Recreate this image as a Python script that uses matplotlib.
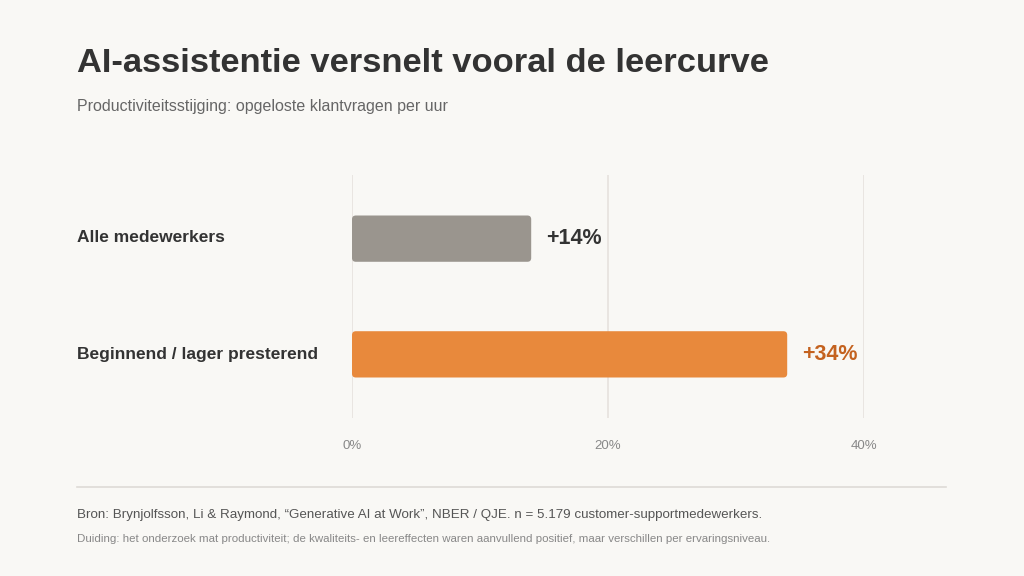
import matplotlib.pyplot as plt
from matplotlib.patches import FancyBboxPatch

plt.rcParams['font.family'] = ['Liberation Sans', 'DejaVu Sans']

categories = ["Alle medewerkers", "Beginnend / lager presterend"]
values = [14, 34]
value_labels = ["+14%", "+34%"]
ticks = [0, 20, 40]
tick_labels = ["0%", "20%", "40%"]

bg = "#f9f8f5"
bar_colors = ["#9a958e", "#e8893c"]
label_colors = ["#333333", "#c4621f"]

fig = plt.figure(figsize=(10.24, 5.76), dpi=100, facecolor=bg)
ax = fig.add_axes([352 / 1024, 1 - 418 / 576, 512 / 1024, 243 / 576])
ax.set_facecolor(bg)

bars = ax.barh(range(len(values)), values, height=0.4, color=bar_colors)
# swap the plain bars for slightly rounded ones
for b, c in zip(bars, bar_colors):
    b.set_visible(False)
    ax.add_patch(FancyBboxPatch((b.get_x(), b.get_y()), b.get_width(), b.get_height(),
                                boxstyle="round,pad=0,rounding_size=0.3",
                                mutation_aspect=0.11, facecolor=c, edgecolor="none",
                                zorder=3))

ax.set_xlim(0, 40)
ax.set_ylim(1.55, -0.55)
ax.set_xticks(ticks)
ax.set_xticklabels(tick_labels, color="#888888", fontsize=9.5)
ax.set_yticks([])
ax.tick_params(axis="x", length=0, pad=16)
for s in ax.spines.values():
    s.set_visible(False)
for t in ticks:
    ax.axvline(t, color="#e6e2dd", lw=1.2, zorder=1)

for i, (v, lab, col) in enumerate(zip(values, value_labels, label_colors)):
    ax.text(v + 1.2, i, lab, va="center", ha="left", fontsize=15.5,
            fontweight="bold", color=col)
    ax.text(77 / 1024, 1 - (238 + 116 * i) / 576, categories[i], transform=fig.transFigure,
            va="center", ha="left", fontsize=12.5, fontweight="bold", color="#333333")

fig.text(77 / 1024, 1 - 63 / 576, "AI-assistentie versnelt vooral de leercurve",
         fontsize=24.8, fontweight="bold", color="#333333", va="center")
fig.text(77 / 1024, 1 - 106 / 576, "Productiviteitsstijging: opgeloste klantvragen per uur",
         fontsize=11.5, color="#666666", va="center")

fig.add_artist(plt.Line2D([77 / 1024, 946 / 1024], [1 - 487 / 576] * 2,
                          color="#dedbd6", lw=1.2, transform=fig.transFigure))
fig.text(77 / 1024, 1 - 515 / 576,
         "Bron: Brynjolfsson, Li & Raymond, \u201cGenerative AI at Work\u201d, NBER / QJE. "
         "n = 5.179 customer-supportmedewerkers.",
         fontsize=9.6, color="#555555", va="center")
fig.text(77 / 1024, 1 - 539 / 576,
         "Duiding: het onderzoek mat productiviteit; de kwaliteits- en leereffecten waren "
         "aanvullend positief, maar verschillen per ervaringsniveau.",
         fontsize=8.25, color="#888888", va="center")

fig.savefig("out.png", dpi=100, facecolor=bg)
